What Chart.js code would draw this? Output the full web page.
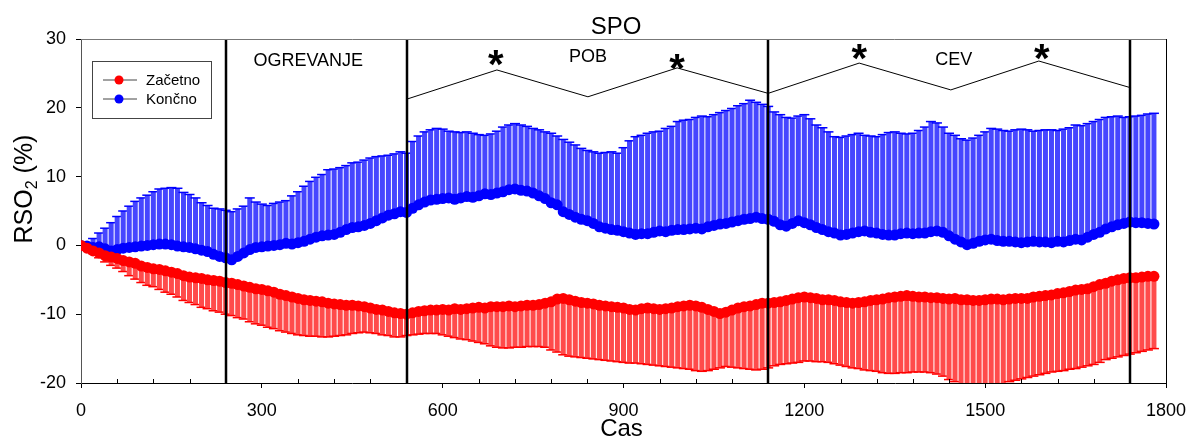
<!DOCTYPE html>
<html>
<head>
<meta charset="utf-8">
<title>SPO</title>
<script src="https://cdn.jsdelivr.net/npm/chart.js@4"></script>
<style>
  html, body { margin: 0; padding: 0; background: #fff; }
  #wrap { width: 1192px; height: 439px; }
</style>
</head>
<body>
<div id="wrap"><canvas id="spo" width="1192" height="439"></canvas></div>
<script>
const FONT = '"Liberation Sans", Arial, Helvetica, sans-serif';

// sampling interval of the recording (s)
const STEP = 10;

// Končno: mean and mean + SD
const konMean = [
  0, -0.1, -0.3, -0.2, -0.5, -0.8, -0.6, -0.4, -0.3, -0.2,
  -0.1, 0.0, 0.1, 0.2, 0.2, 0.1, -0.1, -0.2, -0.3, -0.5,
  -0.7, -0.9, -1.3, -1.6, -1.8, -2.1, -1.6, -1.1, -0.6, -0.3,
  -0.2, -0.1, 0.0, 0.1, 0.3, 0.2, 0.4, 0.6, 0.9, 1.2,
  1.4, 1.5, 1.6, 1.9, 2.3, 2.6, 2.7, 2.9, 3.2, 3.6,
  4.0, 4.4, 4.6, 4.9, 4.8, 5.4, 5.9, 6.3, 6.6, 6.7,
  6.8, 6.9, 6.7, 6.9, 7.1, 7.0, 7.2, 7.5, 7.4, 7.6,
  7.8, 8.1, 8.2, 8.0, 7.9, 7.6, 7.2, 6.8, 6.2, 5.9,
  4.9, 4.5, 4.1, 3.8, 3.6, 3.2, 2.7, 2.5, 2.3, 2.2,
  2.0, 1.8, 1.6, 1.7, 1.7, 1.9, 2.1, 2.0, 2.2, 2.3,
  2.3, 2.4, 2.5, 2.4, 2.7, 2.9, 3.1, 3.2, 3.4, 3.6,
  3.8, 3.9, 4.1, 3.9, 3.8, 3.5, 3.0, 2.8, 3.2, 3.6,
  3.3, 3.0, 2.6, 2.3, 2.0, 1.8, 1.5, 1.6, 1.8, 2.0,
  2.1, 1.9, 1.8, 1.6, 1.5, 1.5, 1.7, 1.8, 1.7, 1.8,
  1.8, 2.0, 2.1, 1.9, 1.4, 0.9, 0.5, 0.1, 0.3, 0.6,
  0.8, 0.9, 0.7, 0.6, 0.6, 0.5, 0.4, 0.5, 0.6, 0.5,
  0.5, 0.4, 0.6, 0.5, 0.7, 0.9, 0.8, 1.2, 1.6, 1.9,
  2.4, 2.7, 3.0, 3.2, 3.4, 3.3, 3.3, 3.2, 3.1
];
const konTop = [
  0, 0.4, 1.0, 1.8, 2.5, 3.3, 4.2, 5.0, 5.7, 6.4,
  6.9, 7.3, 7.8, 8.2, 8.3, 8.4, 8.3, 7.7, 7.4, 6.9,
  6.2, 5.8, 5.4, 5.3, 5.1, 4.9, 5.3, 5.7, 6.9, 6.3,
  6.0, 5.8, 6.1, 6.3, 6.5, 7.2, 7.8, 8.6, 9.3, 9.9,
  10.3, 11.0, 11.1, 11.3, 11.6, 12.0, 12.1, 12.4, 12.7, 12.9,
  13.0, 13.1, 13.3, 13.6, 13.4, 15.1, 15.9, 16.5, 16.8, 17.0,
  16.9, 16.6, 16.5, 16.4, 16.5, 16.3, 16.1, 16.0, 16.2, 16.6,
  17.2, 17.5, 17.7, 17.5, 17.3, 17.0, 16.8, 16.5, 16.3, 15.9,
  15.4, 15.0, 14.6, 14.1, 13.8, 13.6, 13.4, 13.5, 13.6, 13.4,
  14.2, 15.2, 15.8, 16.0, 16.3, 16.5, 16.6, 17.0, 17.3, 18.0,
  18.2, 18.3, 18.6, 18.8, 18.7, 19.0, 19.3, 19.6, 19.9, 20.3,
  20.6, 21.1, 20.8, 20.5, 20.2, 19.4, 19.0, 18.6, 18.5, 18.8,
  19.0, 18.4, 17.5, 17.1, 16.5, 15.8, 15.7, 15.9, 16.1, 16.3,
  16.0, 15.9, 15.8, 16.1, 16.4, 16.5, 16.3, 16.2, 16.3, 16.7,
  17.2, 18.0, 17.8, 17.2, 16.3, 16.0, 15.5, 15.3, 15.6, 16.0,
  16.5, 17.0, 16.9, 16.7, 16.6, 16.8, 16.9, 16.8, 16.6, 16.7,
  16.8, 16.8, 16.7, 16.9, 17.1, 17.5, 17.4, 17.7, 18.0, 18.3,
  18.6, 18.7, 18.8, 18.6, 18.7, 18.8, 18.9, 19.1, 19.2
];

// Začetno: mean and mean - SD
const zacMean = [
  0, -0.4, -0.8, -1.1, -1.5, -1.7, -1.9, -2.2, -2.4, -2.6,
  -3.0, -3.2, -3.4, -3.5, -3.7, -3.9, -4.1, -4.4, -4.6, -4.7,
  -4.8, -5.0, -5.1, -5.2, -5.4, -5.5, -5.7, -5.9, -6.1, -6.3,
  -6.4, -6.6, -6.8, -7.1, -7.3, -7.5, -7.7, -7.9, -8.0, -8.1,
  -8.2, -8.4, -8.5, -8.6, -8.7, -8.7, -8.8, -8.9, -9.1, -9.3,
  -9.4, -9.6, -9.8, -9.9, -10.0, -9.8, -9.6, -9.5, -9.4, -9.4,
  -9.3, -9.4, -9.2, -9.3, -9.2, -9.1, -9.0, -9.1, -8.9, -8.9,
  -8.9, -8.8, -8.9, -8.8, -8.7, -8.7, -8.6, -8.4, -8.2, -7.8,
  -7.7, -7.9, -8.1, -8.3, -8.4, -8.5, -8.7, -8.8, -8.9, -9.0,
  -9.1, -9.3, -9.4, -9.2, -9.1, -9.2, -9.3, -9.2, -9.1, -8.9,
  -8.8, -8.7, -8.8, -9.0, -9.3, -9.6, -9.9, -9.7, -9.4, -9.1,
  -8.9, -8.8, -8.6, -8.4, -8.4, -8.3, -8.2, -8.0, -7.8, -7.6,
  -7.5, -7.6, -7.7, -7.9, -7.9, -8.0, -8.2, -8.3, -8.4, -8.3,
  -8.2, -8.0, -7.9, -7.8, -7.6, -7.5, -7.4, -7.3, -7.4, -7.5,
  -7.5, -7.6, -7.6, -7.7, -7.8, -7.7, -7.9, -7.9, -8.0, -8.0,
  -7.9, -7.8, -7.8, -7.9, -7.8, -7.7, -7.7, -7.7, -7.5, -7.4,
  -7.3, -7.2, -7.0, -6.9, -6.7, -6.5, -6.4, -6.3, -6.0, -5.7,
  -5.5, -5.2, -5.0, -4.8, -4.7, -4.7, -4.6, -4.5, -4.5
];
const zacLow = [
  0, -0.6, -1.2, -1.8, -2.4, -2.9, -3.3, -3.8, -4.4, -4.9,
  -5.4, -5.8, -6.0, -6.4, -6.8, -7.1, -7.5, -8.0, -8.3, -8.6,
  -9.0, -9.2, -9.5, -9.7, -10.0, -10.2, -10.5, -10.7, -11.1, -11.4,
  -11.6, -11.9, -12.1, -12.4, -12.6, -12.8, -13.0, -13.1, -13.2, -13.2,
  -13.3, -13.3, -13.2, -13.1, -13.0, -12.8, -12.7, -12.6, -12.7, -12.8,
  -13.0, -13.1, -13.3, -13.3, -13.1, -13.0, -12.9, -12.8, -12.8, -12.8,
  -13.0, -13.2, -13.4, -13.6, -13.7, -13.9, -14.1, -14.3, -14.6, -14.8,
  -14.9, -14.9, -14.8, -14.8, -14.7, -14.7, -14.7, -14.8, -15.2, -15.5,
  -15.9, -16.1, -16.2, -16.3, -16.4, -16.5, -16.6, -16.7, -16.8, -16.9,
  -17.0, -17.1, -17.1, -17.2, -17.3, -17.4, -17.5, -17.6, -17.7, -17.8,
  -17.9, -18.0, -18.2, -18.3, -18.2, -18.0, -17.8, -17.6, -17.7, -17.8,
  -17.9, -18.0, -18.1, -18.0, -17.8, -17.5, -17.3, -17.2, -17.1, -17.0,
  -16.8, -16.8, -16.9, -16.9, -17.0, -17.2, -17.4, -17.6, -17.8, -17.9,
  -18.1, -18.2, -18.3, -18.5, -18.6, -18.6, -18.5, -18.5, -18.4, -18.4,
  -18.4, -18.5, -18.7, -19.0, -19.5, -19.8, -20.2, -20.4, -20.5, -20.5,
  -20.4, -20.4, -20.3, -20.1, -19.8, -19.6, -19.4, -19.2, -19.0, -18.8,
  -18.6, -18.4, -18.3, -18.2, -18.0, -17.9, -17.7, -17.5, -17.3, -17.0,
  -16.6, -16.4, -16.2, -16.0, -15.8, -15.6, -15.4, -15.2, -15.0
];

// protocol phases
const phaseX = [240, 540, 1140, 1740];
const phaseNames = ['OGREVANJE', 'POB', 'CEV'];
const phaseLabelX = [377, 841, 1448];
const phaseLabelY = [26.8, 27.4, 26.9];

// significance brackets and asterisks
const bracketX = [542, 690, 841, 989, 1140, 1291, 1443, 1589, 1742];
const bracketY = [21.3, 25.5, 21.6, 25.8, 22.1, 26.5, 22.6, 26.8, 22.9];
const starX = [688, 989, 1291, 1594];
const starY = [27.2, 26.7, 28.1, 28.1];

const xTicks = [0, 300, 600, 900, 1200, 1500, 1800];
const yTicks = [-20, -10, 0, 10, 20, 30];

const times = konMean.map((_, i) => i * STEP);
const pts = vals => vals.map((v, i) => ({ x: times[i], y: v }));

// vertical SD bars with caps, drawn under the markers
const errorBars = {
  id: 'errorBars',
  beforeDatasetsDraw(chart) {
    const { ctx, chartArea: a, scales: { x, y } } = chart;
    ctx.save();
    ctx.beginPath();
    ctx.rect(a.left, a.top, a.width, a.height);
    ctx.clip();
    chart.data.datasets.forEach(ds => {
      if (!ds.errTo) return;
      ds.data.forEach((p, i) => {
        const px = x.getPixelForValue(p.x);
        const y0 = y.getPixelForValue(p.y);
        const y1 = y.getPixelForValue(ds.errTo[i]);
        ctx.strokeStyle = ds.barColor;
        ctx.lineWidth = 5;
        ctx.beginPath();
        ctx.moveTo(px, y0);
        ctx.lineTo(px, y1);
        ctx.stroke();
        ctx.strokeStyle = ds.borderColor;
        ctx.lineWidth = 1.5;
        ctx.beginPath();
        ctx.moveTo(px - 5, y1);
        ctx.lineTo(px + 5, y1);
        ctx.stroke();
      });
    });
    ctx.restore();
  }
};

// frame, phase lines, minor ticks, texts and legend box
const decor = {
  id: 'decor',
  afterDatasetsDraw(chart) {
    const { ctx, chartArea: a, scales: { x, y } } = chart;
    ctx.save();

    ctx.strokeStyle = '#000';
    ctx.lineWidth = 2.5;
    phaseX.forEach(v => {
      const px = Math.round(x.getPixelForValue(v));
      ctx.beginPath();
      ctx.moveTo(px, a.top);
      ctx.lineTo(px, a.bottom);
      ctx.stroke();
    });

    ctx.lineWidth = 1;
    ctx.strokeStyle = '#777';
    ctx.beginPath();
    ctx.moveTo(a.left, a.top + 0.5);
    ctx.lineTo(a.right, a.top + 0.5);
    ctx.stroke();
    ctx.strokeStyle = '#000';
    ctx.beginPath();
    ctx.moveTo(a.right + 0.5, a.top);
    ctx.lineTo(a.right + 0.5, a.bottom);
    ctx.stroke();

    // minor x ticks pointing into the plot
    for (let v = 60; v < 1800; v += 60) {
      if (v % 300 === 0) continue;
      const px = Math.round(x.getPixelForValue(v)) + 0.5;
      ctx.beginPath();
      ctx.moveTo(px, a.bottom);
      ctx.lineTo(px, a.bottom - 4);
      ctx.stroke();
    }

    ctx.fillStyle = '#000';
    ctx.textAlign = 'center';
    ctx.textBaseline = 'middle';
    ctx.font = '18px ' + FONT;
    phaseNames.forEach((t, i) => {
      ctx.fillText(t, x.getPixelForValue(phaseLabelX[i]), y.getPixelForValue(phaseLabelY[i]));
    });

    ctx.font = 'bold 40px ' + FONT;
    ctx.textBaseline = 'alphabetic';
    const m = ctx.measureText('*');
    const off = (m.actualBoundingBoxAscent - m.actualBoundingBoxDescent) / 2;
    starX.forEach((v, i) => {
      ctx.fillText('*', x.getPixelForValue(v), y.getPixelForValue(starY[i]) + off);
    });

    // legend
    const lx = a.left + 11, ly = a.top + 22;
    ctx.strokeStyle = '#444';
    ctx.lineWidth = 1;
    ctx.strokeRect(lx + 0.5, ly + 0.5, 119, 57);
    const items = chart.data.datasets.filter(d => d.inLegend);
    items.forEach((d, i) => {
      const cy = ly + 19 + i * 19;
      ctx.strokeStyle = '#444';
      ctx.beginPath();
      ctx.moveTo(lx + 11, cy);
      ctx.lineTo(lx + 45, cy);
      ctx.stroke();
      ctx.fillStyle = d.backgroundColor;
      ctx.beginPath();
      ctx.arc(lx + 27, cy, 4.5, 0, Math.PI * 2);
      ctx.fill();
      ctx.fillStyle = '#000';
      ctx.textAlign = 'left';
      ctx.textBaseline = 'middle';
      ctx.font = '15px ' + FONT;
      ctx.fillText(d.label, lx + 54, cy + 1);
    });

    ctx.restore();
  },
  afterDraw(chart) {
    const { ctx, chartArea: a } = chart;
    ctx.save();
    ctx.fillStyle = '#000';
    ctx.textAlign = 'center';
    ctx.textBaseline = 'alphabetic';
    ctx.font = '24px ' + FONT;
    ctx.fillText('SPO', 616, 34);
    ctx.font = '24px ' + FONT;
    ctx.fillText('Cas', (a.left + a.right) / 2 - 2, 436);

    // y title with subscript
    ctx.translate(32, 189);
    ctx.rotate(-Math.PI / 2);
    ctx.textAlign = 'left';
    ctx.font = '25px ' + FONT;
    const w1 = ctx.measureText('RSO').width;
    const w3 = ctx.measureText(' (%)').width;
    ctx.font = '16px ' + FONT;
    const w2 = ctx.measureText('2').width;
    let sx = -(w1 + w2 + w3) / 2;
    ctx.font = '25px ' + FONT;
    ctx.fillText('RSO', sx, 0);
    ctx.font = '16px ' + FONT;
    ctx.fillText('2', sx + w1, 5);
    ctx.font = '25px ' + FONT;
    ctx.fillText(' (%)', sx + w1 + w2, 0);
    ctx.restore();
  }
};

new Chart(document.getElementById('spo'), {
  type: 'scatter',
  data: {
    datasets: [
      {
        label: 'Začetno',
        data: pts(zacMean),
        errTo: zacLow,
        inLegend: true,
        showLine: true,
        borderColor: '#ff0000',
        backgroundColor: '#ff0000',
        barColor: 'rgb(255,75,75)',
        borderWidth: 3,
        pointRadius: 5.5,
        pointBorderWidth: 0
      },
      {
        label: 'Končno',
        data: pts(konMean),
        errTo: konTop,
        inLegend: true,
        showLine: true,
        borderColor: '#0000ff',
        backgroundColor: '#0000ff',
        barColor: 'rgb(70,70,255)',
        borderWidth: 3,
        pointRadius: 5.5,
        pointBorderWidth: 0
      },
      {
        label: 'brackets',
        data: bracketX.map((v, i) => ({ x: v, y: bracketY[i] })),
        showLine: true,
        borderColor: '#000',
        borderWidth: 1,
        pointRadius: 0
      }
    ]
  },
  options: {
    responsive: false,
    animation: false,
    events: [],
    layout: { padding: { top: 39, right: 26, left: 0, bottom: 0 } },
    plugins: { legend: { display: false }, tooltip: { enabled: false }, title: { display: false } },
    scales: {
      x: {
        type: 'linear',
        min: 0,
        max: 1800,
        afterBuildTicks: s => { s.ticks = xTicks.map(v => ({ value: v })); },
        afterFit: s => { s.height = 56; s.paddingLeft = 0; s.paddingRight = 0; },
        ticks: { color: '#000', padding: 12, maxRotation: 0, font: { size: 18, family: FONT }, callback: v => String(v) },
        grid: { drawOnChartArea: false, tickLength: 5, color: '#000' },
        border: { color: '#000' }
      },
      y: {
        min: -20,
        max: 30,
        afterBuildTicks: s => { s.ticks = yTicks.map(v => ({ value: v })); },
        afterFit: s => { s.width = 81; s.paddingTop = 0; s.paddingBottom = 0; },
        ticks: { color: '#000', padding: 10, font: { size: 18, family: FONT }, callback: v => String(v) },
        grid: { drawOnChartArea: false, tickLength: 5, color: '#000' },
        border: { color: '#555' }
      }
    }
  },
  plugins: [errorBars, decor]
});
</script>
</body>
</html>
